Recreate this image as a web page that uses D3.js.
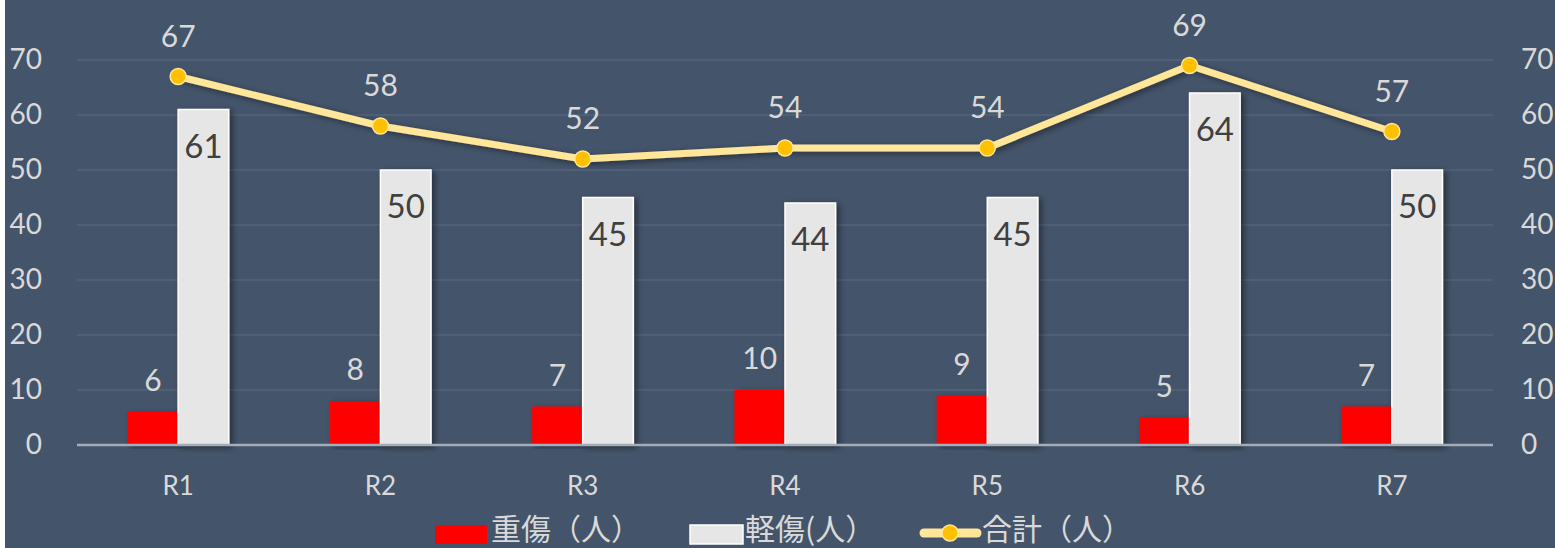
<!DOCTYPE html>
<html>
<head>
<meta charset="utf-8">
<script src="https://cdn.jsdelivr.net/npm/d3@7"></script>
<style>
  html, body { margin: 0; padding: 0; background: #ffffff; }
  svg { display: block; }
</style>
</head>
<body>
<svg id="chart" width="1555" height="548"></svg>
<script>
// data
const categories = ["R1", "R2", "R3", "R4", "R5", "R6", "R7"];
const serious = [6, 8, 7, 10, 9, 5, 7];
const minor = [61, 50, 45, 44, 45, 64, 50];
const total = [67, 58, 52, 54, 54, 69, 57];
const yTicks = [0, 10, 20, 30, 40, 50, 60, 70];
const legendNames = ["重傷（人）", "軽傷(人）", "合計（人）"];

const svg = d3.select("#chart");
const W = 1555, H = 548;
const margin = { top: 60, right: 62, bottom: 103, left: 77 };

// background panel (thin white strip at left edge)
svg.append("rect").attr("x", 5).attr("y", 0).attr("width", W - 5).attr("height", H).attr("fill", "#44546a");

const defs = svg.append("defs");
const f = defs.append("filter").attr("id", "shadow").attr("x", "-30%").attr("y", "-10%").attr("width", "160%").attr("height", "120%");
f.append("feDropShadow").attr("dx", 3).attr("dy", 2).attr("stdDeviation", 3)
  .attr("flood-color", "#000").attr("flood-opacity", 0.45);

const x = d3.scaleBand().domain(categories).range([margin.left, W - margin.right]);
const y = d3.scaleLinear().domain([0, 70]).range([H - margin.bottom, margin.top]);
const barW = x.bandwidth() * 0.25;

const tickFont = "Lato, 'Open Sans', sans-serif";
const cjkFont = "'Noto Sans CJK JP', 'Noto Sans', sans-serif";

// gridlines
svg.append("g").selectAll("line").data(yTicks.filter(d => d > 0)).join("line")
  .attr("x1", margin.left).attr("x2", W - margin.right)
  .attr("y1", d => y(d)).attr("y2", d => y(d))
  .attr("stroke", "#5a6b81").attr("stroke-width", 1.2);

// left and right axes
const yLeft = svg.append("g").attr("transform", `translate(${margin.left - 35},0)`)
  .call(d3.axisLeft(y).tickValues(yTicks).tickSize(0).tickPadding(0));
const yRight = svg.append("g").attr("transform", `translate(${W - margin.right + 28},0)`)
  .call(d3.axisRight(y).tickValues(yTicks).tickSize(0).tickPadding(0));
[yLeft, yRight].forEach(g => {
  g.select(".domain").remove();
  g.selectAll("text").attr("fill", "#d9d9d9").style("font-size", "28px").style("font-family", tickFont);
});

// bars
svg.append("g").selectAll("rect").data(categories).join("rect")
  .attr("x", d => x(d) + x.bandwidth() / 2 - barW)
  .attr("y", (d, i) => y(serious[i]))
  .attr("width", barW)
  .attr("height", (d, i) => y(0) - y(serious[i]))
  .attr("fill", "#ff0000")
  .attr("filter", "url(#shadow)");

svg.append("g").selectAll("rect").data(categories).join("rect")
  .attr("x", d => x(d) + x.bandwidth() / 2)
  .attr("y", (d, i) => y(minor[i]))
  .attr("width", barW)
  .attr("height", (d, i) => y(0) - y(minor[i]))
  .attr("fill", "#e7e6e6")
  .attr("stroke", "#ffffff").attr("stroke-width", 1.5)
  .attr("filter", "url(#shadow)");

// baseline
svg.append("line")
  .attr("x1", margin.left).attr("x2", W - margin.right)
  .attr("y1", y(0)).attr("y2", y(0))
  .attr("stroke", "#a3acb9").attr("stroke-width", 2.5);

// x axis labels
const xAxis = svg.append("g").attr("transform", `translate(0,${y(0)})`)
  .call(d3.axisBottom(x).tickSize(0).tickPadding(32));
xAxis.select(".domain").remove();
xAxis.selectAll("text").attr("fill", "#d9d9d9").style("font-size", "26px").style("font-family", tickFont);

// total line
const line = d3.line()
  .x((d, i) => x(categories[i]) + x.bandwidth() / 2)
  .y(d => y(d));
svg.append("path").datum(total)
  .attr("d", line).attr("fill", "none")
  .attr("stroke", "#ffe699").attr("stroke-width", 7)
  .attr("stroke-linejoin", "round").attr("filter", "url(#shadow)");
svg.append("g").selectAll("circle").data(total).join("circle")
  .attr("cx", (d, i) => x(categories[i]) + x.bandwidth() / 2)
  .attr("cy", d => y(d))
  .attr("r", 8)
  .attr("fill", "#ffc000").attr("stroke", "#ffe699").attr("stroke-width", 1.5);

// data labels
svg.append("g").selectAll("text").data(serious).join("text")
  .attr("x", (d, i) => x(categories[i]) + x.bandwidth() / 2 - barW / 2)
  .attr("y", d => y(d) - 21)
  .attr("text-anchor", "middle")
  .attr("fill", "#d9d9d9").style("font-size", "30px").style("font-family", tickFont)
  .text(d => d);

svg.append("g").selectAll("text").data(minor).join("text")
  .attr("x", (d, i) => x(categories[i]) + x.bandwidth() / 2 + barW / 2)
  .attr("y", d => y(d) + 48)
  .attr("text-anchor", "middle")
  .attr("fill", "#404040").style("font-size", "33px").style("font-family", tickFont)
  .text(d => d);

svg.append("g").selectAll("text").data(total).join("text")
  .attr("x", (d, i) => x(categories[i]) + x.bandwidth() / 2)
  .attr("y", d => y(d) - 30)
  .attr("text-anchor", "middle")
  .attr("fill", "#d9d9d9").style("font-size", "30px").style("font-family", tickFont)
  .text(d => d);

// legend
const lg = svg.append("g");
const ly = 533;
lg.append("rect").attr("x", 435).attr("y", ly - 8).attr("width", 52).attr("height", 19).attr("fill", "#ff0000");
lg.append("rect").attr("x", 690).attr("y", ly - 8).attr("width", 53).attr("height", 19)
  .attr("fill", "#e7e6e6").attr("stroke", "#ffffff").attr("stroke-width", 1.5);
lg.append("line").attr("x1", 924).attr("x2", 977).attr("y1", ly).attr("y2", ly)
  .attr("stroke", "#ffe699").attr("stroke-width", 9).attr("stroke-linecap", "round");
lg.append("circle").attr("cx", 950).attr("cy", ly).attr("r", 8)
  .attr("fill", "#ffc000").attr("stroke", "#ffe699").attr("stroke-width", 1.5);
const legendX = [491, 745, 982];
lg.selectAll("text").data(legendNames).join("text")
  .attr("x", (d, i) => legendX[i]).attr("y", ly + 7)
  .attr("fill", "#d9d9d9").style("font-size", "30px").style("font-family", cjkFont)
  .text(d => d);
</script>
</body>
</html>
